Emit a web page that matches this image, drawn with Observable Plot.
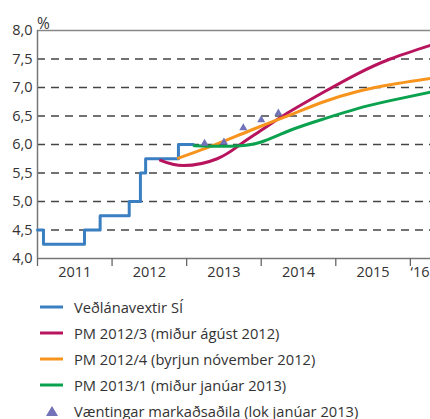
<!DOCTYPE html>
<html><head><meta charset="utf-8">
<script src="https://cdn.jsdelivr.net/npm/d3@7"></script>
<script src="https://cdn.jsdelivr.net/npm/@observablehq/plot@0.6"></script>
<style>
body{margin:0;background:#fff;font-family:"Open Sans",sans-serif;color:#333}
#wrap{position:relative;width:430px;height:419px;overflow:hidden}
.leg{position:absolute;left:0;height:20px;display:flex;align-items:center;font-size:14.7px;white-space:nowrap}
.leg svg{margin-left:40px;margin-right:11px}
</style></head><body><div id="wrap"></div>
<script>
// Policy rate (step series)
const rateDates = [2011.0, 2011.08, 2011.63, 2011.84, 2012.23, 2012.38, 2012.45, 2012.89, 2013.09];
const rateValues = [4.5, 4.25, 4.5, 4.75, 5.0, 5.5, 5.75, 6.0, 6.0];
// PM 2012/3
const pm123Dates = [2012.65, 2012.96, 2013.41, 2013.72, 2013.99, 2014.30, 2014.84, 2015.29, 2015.73, 2016.27];
const pm123Values = [5.72, 5.63, 5.75, 6.0, 6.24, 6.51, 6.92, 7.24, 7.5, 7.74];
// PM 2012/4
const pm124Dates = [2012.89, 2013.41, 2013.86, 2014.39, 2014.84, 2015.29, 2015.73, 2016.27];
const pm124Values = [5.76, 6.01, 6.25, 6.52, 6.75, 6.93, 7.05, 7.16];
// PM 2013/1
const pm131Dates = [2013.10, 2013.45, 2013.72, 2013.99, 2014.39, 2014.84, 2015.29, 2015.73, 2016.27];
const pm131Values = [5.98, 5.97, 5.98, 6.04, 6.25, 6.45, 6.63, 6.77, 6.92];
// Market expectations
const expDates = [2013.24, 2013.50, 2013.76, 2014.0, 2014.23];
const expValues = [6.02, 6.04, 6.29, 6.43, 6.55];

const yTicks = [4, 4.5, 5, 5.5, 6, 6.5, 7, 7.5, 8];
const gridValues = [4.5, 5, 5.5, 6, 6.5, 7, 7.5];
const yearStarts = [2011, 2012, 2013, 2014, 2015, 2016];
const yearLabelPos = [2011.5, 2012.5, 2013.5, 2014.5, 2015.5, 2016.13];
const yearLabels = ["2011", "2012", "2013", "2014", "2015", "\u201816"];

const legendLabels = ["Veðlánavextir SÍ", "PM 2012/3 (miður ágúst 2012)", "PM 2012/4 (byrjun nóvember 2012)", "PM 2013/1 (miður janúar 2013)", "Væntingar markaðsaðila (lok janúar 2013)"];
const colors = ["#3a7fc1", "#b8145e", "#f7941d", "#0aa24f", "#7272b8"];

const toPts = (xs, ys) => xs.map((x, i) => ({x, y: ys[i]}));
const rate = toPts(rateDates, rateValues);
const pm123 = toPts(pm123Dates, pm123Values);
const pm124 = toPts(pm124Dates, pm124Values);
const pm131 = toPts(pm131Dates, pm131Values);
const exp = toPts(expDates, expValues);

const chart = Plot.plot({
  width: 430, height: 285,
  marginLeft: 37, marginRight: 0, marginTop: 30, marginBottom: 27,
  style: {fontFamily: "'Open Sans', sans-serif", fontSize: "14.5px", color: "#333", background: "#fff", overflow: "visible"},
  x: {domain: [2011, 2016.27]},
  y: {domain: [4, 8]},
  marks: [
    Plot.ruleY(gridValues, {stroke: "#444", strokeWidth: 1.3, strokeDasharray: "8,6"}),
    Plot.ruleY([8], {stroke: "#888", strokeWidth: 1.5}),
    Plot.ruleY([4], {stroke: "#777", strokeWidth: 1.5}),
    Plot.ruleX([2011], {stroke: "#777", strokeWidth: 1.5}),
    Plot.axisY({ticks: yTicks, tickSize: 0, tickPadding: 5, tickFormat: d => d.toFixed(1).replace(".", ","), label: null, fill: "#333"}),
    Plot.axisX({ticks: yearStarts, tickSize: 8, tickFormat: () => "", label: null, stroke: "#666", strokeWidth: 1.3}),
    Plot.axisX({ticks: yearLabelPos, tickSize: 0, tickPadding: 8, tickFormat: d => yearLabels[yearLabelPos.indexOf(d)], label: null, fill: "#333"}),
    Plot.line(rate, {x: "x", y: "y", curve: "step-after", stroke: colors[0], strokeWidth: 3}),
    Plot.line(pm123, {x: "x", y: "y", curve: "natural", stroke: colors[1], strokeWidth: 3}),
    Plot.line(pm124, {x: "x", y: "y", curve: "natural", stroke: colors[2], strokeWidth: 3}),
    Plot.line(pm131, {x: "x", y: "y", curve: "natural", stroke: colors[3], strokeWidth: 3}),
    Plot.dot(exp, {x: "x", y: "y", symbol: "triangle", r: 3.0, fill: colors[4], stroke: "none"}),
    Plot.text(["%"], {frameAnchor: "top-left", dx: 6, dy: -12.5, text: d => d, textAnchor: "middle", fill: "#333", fontSize: 15.5})
  ]
});
const wrap = document.getElementById("wrap");
wrap.appendChild(chart);

const rowCenters = [306.5, 332.5, 358.5, 384.5, 410.5];
legendLabels.forEach((lab, i) => {
  const row = document.createElement("div");
  row.className = "leg";
  row.style.top = (rowCenters[i] - 10) + "px";
  const sw = i < 4
    ? `<svg width="23" height="12"><line x1="0" y1="6" x2="23" y2="6" stroke="${colors[i]}" stroke-width="3"/></svg>`
    : `<svg width="23" height="12"><path d="M12,1 L18,11 L6,11 Z" fill="${colors[i]}"/></svg>`;
  row.innerHTML = sw + `<span>${lab}</span>`;
  wrap.appendChild(row);
});
</script>
</body></html>
